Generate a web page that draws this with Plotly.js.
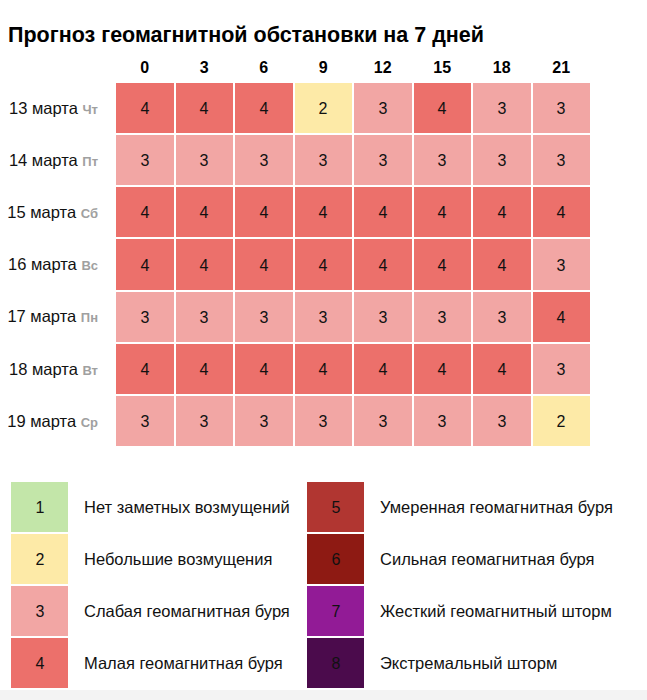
<!DOCTYPE html>
<html>
<head>
<meta charset="utf-8">
<script src="https://cdn.plot.ly/plotly-3.0.1.min.js"></script>
<style>
  body { margin: 0; background: #fff; }
  #chart { width: 647px; height: 700px; }
</style>
</head>
<body>
<div id="chart"></div>
<script>
// часы прогноза (столбцы)
var hours = ['0', '3', '6', '9', '12', '15', '18', '21'];
var dates = ['13 марта', '14 марта', '15 марта', '16 марта', '17 марта', '18 марта', '19 марта'];
var weekdays = ['Чт', 'Пт', 'Сб', 'Вс', 'Пн', 'Вт', 'Ср'];

// индекс Kp по дням
var kp = [
  [4, 4, 4, 2, 3, 4, 3, 3],
  [3, 3, 3, 3, 3, 3, 3, 3],
  [4, 4, 4, 4, 4, 4, 4, 4],
  [4, 4, 4, 4, 4, 4, 4, 3],
  [3, 3, 3, 3, 3, 3, 3, 4],
  [4, 4, 4, 4, 4, 4, 4, 3],
  [3, 3, 3, 3, 3, 3, 3, 2]
];

// легенда
var levels = [1, 2, 3, 4, 5, 6, 7, 8];
var levelNames = [
  'Нет заметных возмущений',
  'Небольшие возмущения',
  'Слабая геомагнитная буря',
  'Малая геомагнитная буря',
  'Умеренная геомагнитная буря',
  'Сильная геомагнитная буря',
  'Жесткий геомагнитный шторм',
  'Экстремальный шторм'
];
var levelColors = ['#c3e6a9', '#fdeaa7', '#f2a6a4', '#ec706b', '#b13631', '#8e1a13', '#921b96', '#4b0b4c'];

// ступенчатая шкала 1..8
var scale = [];
levelColors.forEach(function (c, i) {
  scale.push([i / 8, c]);
  scale.push([(i + 1) / 8, c]);
});

var rowLabels = dates.map(function (d, i) {
  return d + ' <span style="font-size:13px;color:#a0a0a0"><b>' + weekdays[i] + '</b></span>';
});

var W = 647, H = 700;
function px(a, b) { return [a / W, b / W]; }
function py(top, bottom) { return [1 - bottom / H, 1 - top / H]; }

var common = {
  type: 'heatmap',
  colorscale: scale,
  zmin: 0.5,
  zmax: 8.5,
  showscale: false,
  xgap: 2,
  ygap: 2,
  texttemplate: '%{z}',
  textfont: {size: 16, color: '#111'},
  hoverinfo: 'skip'
};

var main = Object.assign({}, common, {
  x: hours,
  y: rowLabels,
  z: kp
});

var legLeft = Object.assign({}, common, {
  x: ['k'],
  y: levelNames.slice(0, 4),
  z: levels.slice(0, 4).map(function (v) { return [v]; }),
  xaxis: 'x2',
  yaxis: 'y2'
});

var legRight = Object.assign({}, common, {
  x: ['k'],
  y: levelNames.slice(4),
  z: levels.slice(4).map(function (v) { return [v]; }),
  xaxis: 'x3',
  yaxis: 'y3'
});

var legAxisX = {showgrid: false, zeroline: false, showticklabels: false, ticks: '', fixedrange: true};
var legAxisY = {
  type: 'category', autorange: 'reversed', side: 'right', showgrid: false, zeroline: false,
  ticks: '', ticklabelstandoff: 14, tickfont: {size: 16.5, color: '#111'}, fixedrange: true
};

var layout = {
  width: W,
  height: H,
  margin: {l: 0, r: 0, t: 0, b: 0},
  paper_bgcolor: '#ffffff',
  plot_bgcolor: '#ffffff',
  font: {family: 'Liberation Sans, Arial, sans-serif', color: '#111'},
  title: {
    text: '<b>Прогноз геомагнитной обстановки на 7 дней</b>',
    font: {size: 21.5, color: '#000'},
    x: 8 / W, xanchor: 'left',
    y: 1 - 34 / H, yanchor: 'middle'
  },
  xaxis: {
    domain: px(115, 591), type: 'category', side: 'top', showgrid: false, zeroline: false,
    ticks: '', ticklabelstandoff: 5, tickfont: {size: 16, color: '#000', weight: 'bold'}, fixedrange: true
  },
  yaxis: {
    domain: py(82, 447), type: 'category', autorange: 'reversed', showgrid: false, zeroline: false,
    ticks: '', ticklabelstandoff: 16, tickfont: {size: 16.5, color: '#111'}, fixedrange: true
  },
  xaxis2: Object.assign({}, legAxisX, {domain: px(10, 69), anchor: 'y2'}),
  yaxis2: Object.assign({}, legAxisY, {domain: py(481, 689), anchor: 'x2'}),
  xaxis3: Object.assign({}, legAxisX, {domain: px(306, 365), anchor: 'y3'}),
  yaxis3: Object.assign({}, legAxisY, {domain: py(481, 689), anchor: 'x3'}),
  shapes: [{
    type: 'rect', xref: 'paper', yref: 'paper', x0: 0, x1: 1, y0: 0, y1: 10 / H,
    fillcolor: '#f3f3f3', line: {width: 0}, layer: 'below'
  }]
};

Plotly.newPlot('chart', [main, legLeft, legRight], layout, {displayModeBar: false, staticPlot: true});
</script>
</body>
</html>
